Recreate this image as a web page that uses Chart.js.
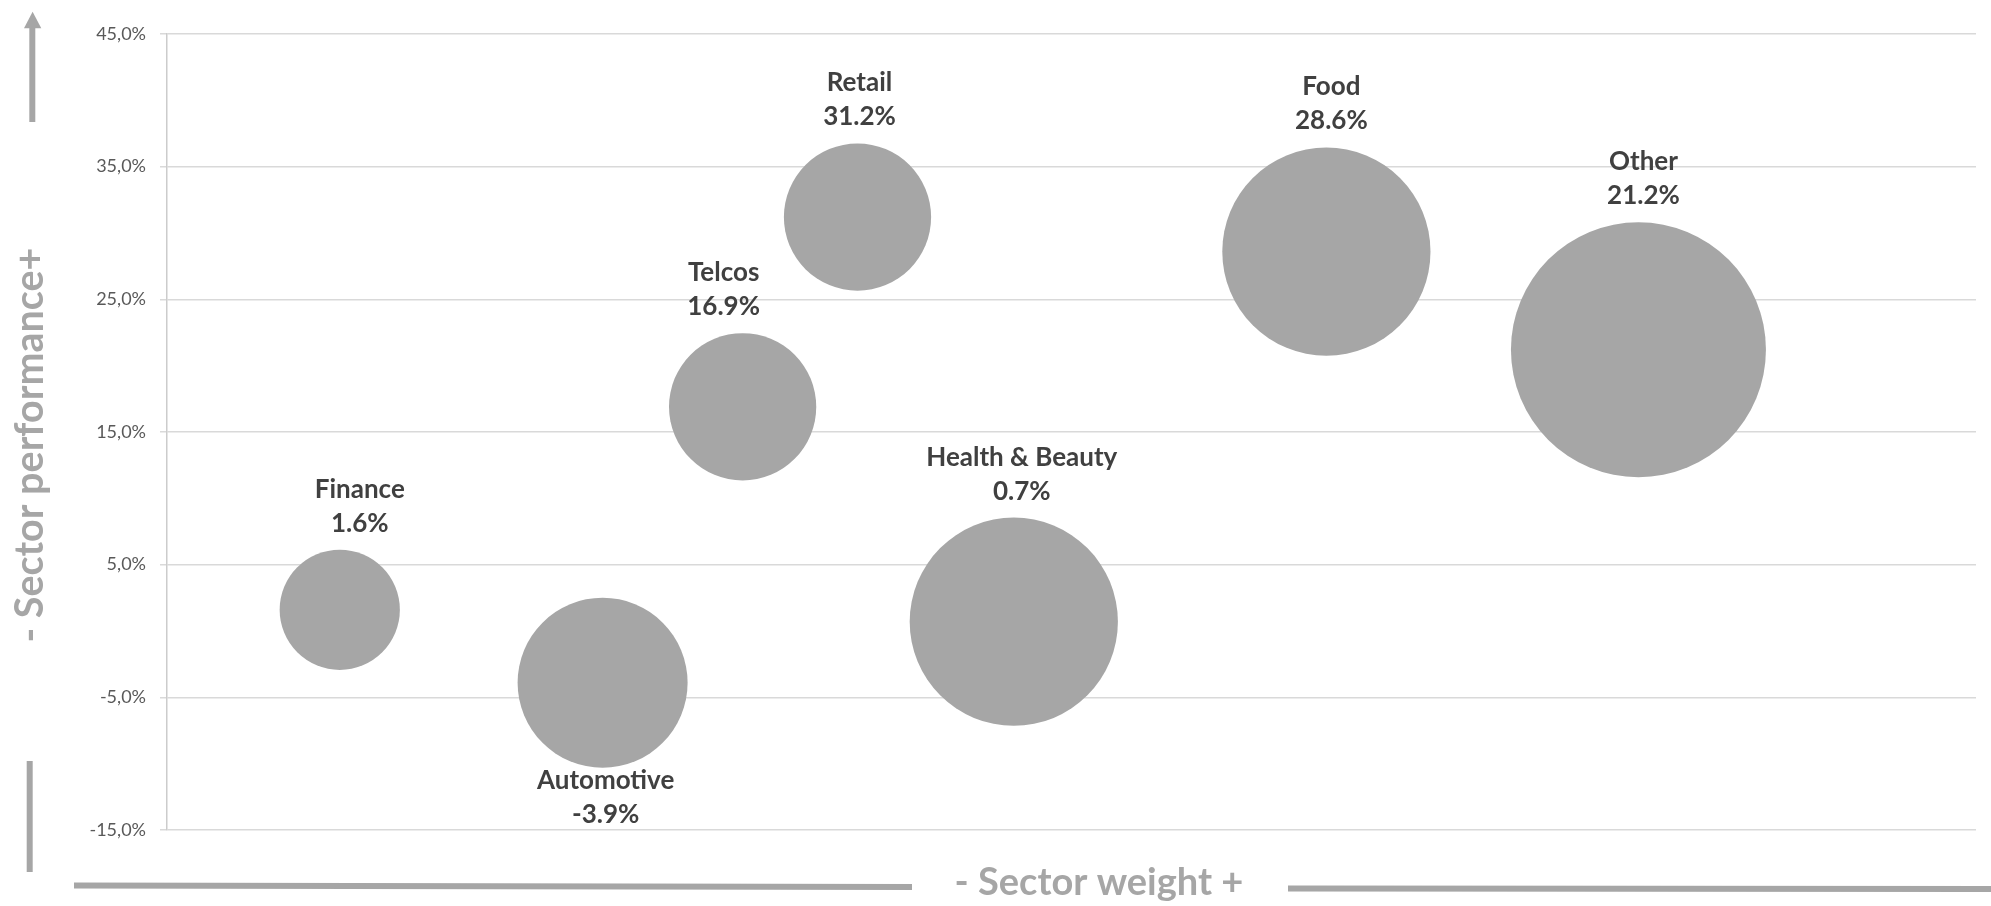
<!DOCTYPE html>
<html><head><meta charset="utf-8">
<script src="https://cdn.jsdelivr.net/npm/chart.js@4.4.0/dist/chart.umd.min.js"></script>
<style>html,body{margin:0;padding:0;background:#fff;} canvas{display:block;}</style>
</head><body>
<canvas id="c" width="1991" height="906"></canvas>
<script>
// ---- data ----
const sectors = ['Finance', 'Automotive', 'Telcos', 'Retail', 'Health & Beauty', 'Food', 'Other'];
const sectorWeight = [9.55, 24.08, 31.82, 38.17, 46.81, 64.09, 81.34];
const sectorPerformance = [1.6, -3.9, 16.9, 31.2, 0.7, 28.6, 21.2];
const bubbleSize = [2, 4, 3, 3, 6, 6, 9];
const yTickValues = [-15, -5, 5, 15, 25, 35, 45];
const labelBelow = ['Automotive'];

const FONT = 'Lato';
const BUBBLE_SCALE = 42.5; // px radius per sqrt(size unit)

const decor = {
  id: 'decor',
  afterDraw(chart) {
    const ctx = chart.ctx;
    ctx.save();
    ctx.strokeStyle = '#a6a6a6';
    ctx.fillStyle = '#a6a6a6';
    ctx.lineWidth = 6;
    ctx.lineCap = 'butt';
    ctx.beginPath(); ctx.moveTo(32.3, 122); ctx.lineTo(32.3, 27); ctx.stroke();
    ctx.beginPath(); ctx.moveTo(32.6, 11.7); ctx.lineTo(41.3, 28.3); ctx.lineTo(24, 28.3); ctx.closePath(); ctx.fill();
    ctx.beginPath(); ctx.moveTo(29.7, 761); ctx.lineTo(29.7, 872); ctx.stroke();
    ctx.beginPath(); ctx.moveTo(74, 885.5); ctx.lineTo(912, 887); ctx.stroke();
    ctx.beginPath(); ctx.moveTo(1288, 888.5); ctx.lineTo(1991, 889); ctx.stroke();
    ctx.textAlign = 'center';
    ctx.textBaseline = 'alphabetic';
    ctx.font = 'bold 38px ' + FONT;
    ctx.fillText('- Sector weight +', 1099, 895);
    ctx.font = 'bold 39.5px ' + FONT;
    ctx.translate(43, 445);
    ctx.rotate(-Math.PI / 2);
    ctx.fillText('- Sector performance+', 0, 0);
    ctx.restore();
  }
};

const bubbleLabels = {
  id: 'bubbleLabels',
  afterDatasetsDraw(chart, args, opts) {
    const ctx = chart.ctx;
    const meta = chart.getDatasetMeta(0);
    ctx.save();
    ctx.font = 'bold 26px ' + FONT;
    ctx.fillStyle = '#404040';
    ctx.textAlign = 'center';
    ctx.textBaseline = 'alphabetic';
    meta.data.forEach((el, i) => {
      const r = el.options.radius;
      const name = sectors[i];
      const val = sectorPerformance[i].toFixed(1) + '%';
      const x = el.x + ((opts.nudgeX && opts.nudgeX[i]) || 0);
      if (labelBelow.includes(name)) {
        const b = el.y + r + 21;
        ctx.fillText(name, x, b);
        ctx.fillText(val, x, b + 34);
      } else {
        const b = el.y - r - 18;
        ctx.fillText(val, x, b);
        ctx.fillText(name, x, b - 34);
      }
    });
    ctx.restore();
  }
};

new Chart(document.getElementById('c'), {
  type: 'bubble',
  data: {
    datasets: [{
      label: 'Sectors',
      data: sectors.map((s, i) => ({ x: sectorWeight[i], y: sectorPerformance[i], r: BUBBLE_SCALE * Math.sqrt(bubbleSize[i]) })),
      backgroundColor: '#a6a6a6',
      borderWidth: 0,
      hoverBorderWidth: 0,
      clip: false
    }]
  },
  options: {
    responsive: false,
    animation: false,
    events: [],
    layout: { autoPadding: false, padding: { top: 34, right: 15, left: 0, bottom: 76 } },
    plugins: {
      legend: { display: false },
      tooltip: { enabled: false },
      bubbleLabels: { nudgeX: [20, 3, -19, 2, 8, 5, 5] }
    },
    scales: {
      x: { type: 'linear', display: false, min: 0, max: 100 },
      y: {
        type: 'linear',
        min: -15, max: 45,
        afterBuildTicks(scale) { scale.ticks = yTickValues.map(v => ({ value: v })); },
        afterFit(scale) { scale.width = 167; },
        ticks: {
          padding: 14,
          color: '#595959',
          font: { family: FONT, size: 18 },
          callback: v => v.toFixed(1).replace('.', ',') + '%'
        },
        grid: { color: '#d9d9d9', lineWidth: 1.5, tickLength: 7, tickColor: '#d9d9d9' },
        border: { color: '#cccccc', width: 1.5 }
      }
    }
  },
  plugins: [decor, bubbleLabels]
});
</script>
</body></html>
